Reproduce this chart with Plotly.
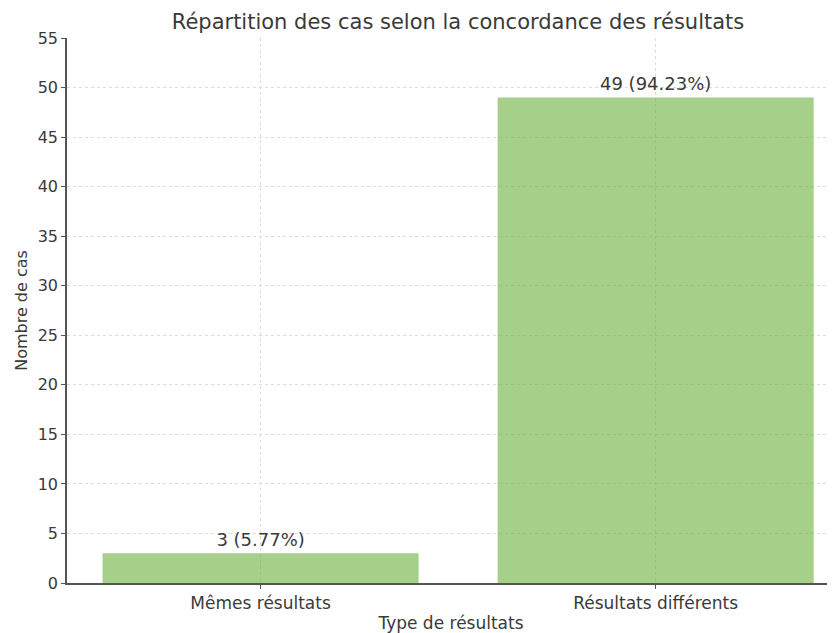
import plotly.graph_objects as go

categories = ["Mêmes résultats", "Résultats différents"]
counts = [3, 49]
labels = ["3 (5.77%)", "49 (94.23%)"]
y_ticks = [0, 5, 10, 15, 20, 25, 30, 35, 40, 45, 50, 55]

font = "DejaVu Sans, sans-serif"
txt = "#3a3a3a"

W, H = 827, 625

fig = go.Figure()
fig.add_trace(go.Bar(
    x=[0, 1], y=counts, width=0.8,
    marker=dict(color="rgba(107,175,60,0.6)", line=dict(width=0)),
    text=labels, textposition="outside", cliponaxis=False,
    textfont=dict(family=font, size=18, color=txt),
))

fig.update_layout(
    width=W, height=H,
    margin=dict(l=59, r=0, t=30, b=50),
    paper_bgcolor="white", plot_bgcolor="white",
    showlegend=False,
    title=dict(text="Répartition des cas selon la concordance des résultats",
               xref="container", x=450 / W, xanchor="center",
               y=1 - 14 / H, yanchor="middle",
               font=dict(family=font, size=21, color=txt)),
    xaxis=dict(range=[-0.49, 1.454], tickmode="array", tickvals=[0, 1],
               ticktext=categories, showgrid=True, gridcolor="#dcdcdc",
               griddash="dot", gridwidth=1, zeroline=False,
               showline=True, linecolor="#555", linewidth=1.5,
               ticks="outside", ticklen=4, tickcolor="#555",
               tickfont=dict(family=font, size=17, color=txt),
               title=dict(text="Type de résultats", standoff=5,
                          font=dict(family=font, size=17, color=txt))),
    yaxis=dict(range=[0, 55], tickmode="array", tickvals=y_ticks,
               showgrid=True, gridcolor="#dcdcdc", griddash="dot", gridwidth=1,
               zeroline=False, showline=True, linecolor="#555", linewidth=1.5,
               ticks="outside", ticklen=4, tickcolor="#555",
               tickfont=dict(family=font, size=16, color=txt),
               title=dict(text="Nombre de cas", standoff=6,
                          font=dict(family=font, size=16, color=txt))),
    bargap=0.2,
)

fig.write_html("out.html")
